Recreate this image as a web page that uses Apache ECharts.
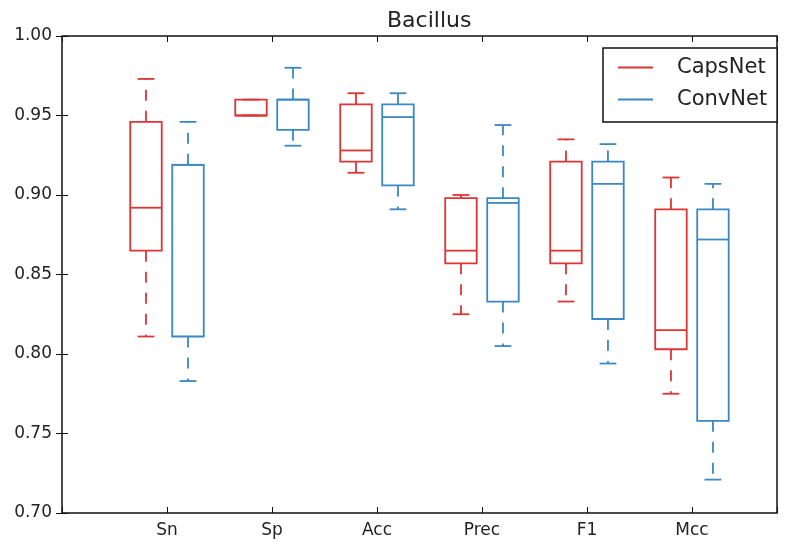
<!DOCTYPE html>
<html>
<head>
<meta charset="utf-8">
<script src="https://cdn.jsdelivr.net/npm/echarts@6/dist/echarts.min.js"></script>
<style>
  html, body { margin: 0; padding: 0; background: #fff; }
  #main { width: 788px; height: 542px; }
</style>
</head>
<body>
<div id="main"></div>
<script>
    var categories = ['Sn', 'Sp', 'Acc', 'Prec', 'F1', 'Mcc'];
    // [min, q1, median, q3, max]
    var capsNet = [
        [0.811, 0.865, 0.892, 0.946, 0.973],
        [0.950, 0.950, 0.950, 0.960, 0.960],
        [0.914, 0.921, 0.928, 0.957, 0.964],
        [0.825, 0.857, 0.865, 0.898, 0.900],
        [0.833, 0.857, 0.865, 0.921, 0.935],
        [0.775, 0.803, 0.815, 0.891, 0.911]
    ];
    var convNet = [
        [0.783, 0.811, 0.919, 0.919, 0.946],
        [0.931, 0.941, 0.960, 0.960, 0.980],
        [0.891, 0.906, 0.949, 0.957, 0.964],
        [0.805, 0.833, 0.895, 0.898, 0.944],
        [0.794, 0.822, 0.907, 0.921, 0.932],
        [0.721, 0.758, 0.872, 0.891, 0.907]
    ];
    var yTicks = [0.70, 0.75, 0.80, 0.85, 0.90, 0.95, 1.00];

    var RED = '#dc3535';
    var BLUE = '#3b88c3';
    var FONT = 'DejaVu Sans';

    function toItems(rows) {
        return rows.map(function (r, i) {
            return [i + 1].concat(r);
        });
    }

    function boxRenderer(side) {
        return function (params, api) {
            var pos = api.value(0);
            var band = api.size([1, 0])[0];
            var cx = api.coord([pos, 0])[0] + side * band * 0.2;
            var half = band * 0.15;
            var capHalf = band * 0.08;
            var yMin = api.coord([pos, api.value(1)])[1];
            var yQ1 = api.coord([pos, api.value(2)])[1];
            var yMed = api.coord([pos, api.value(3)])[1];
            var yQ3 = api.coord([pos, api.value(4)])[1];
            var yMax = api.coord([pos, api.value(5)])[1];
            var color = api.visual('color');
            var solid = { stroke: color, lineWidth: 1.8, fill: null };
            var dashed = { stroke: color, lineWidth: 1.8, lineDash: [11, 10] };
            return {
                type: 'group',
                children: [
                    { type: 'line', shape: { x1: cx, y1: yQ3, x2: cx, y2: yMax }, style: dashed },
                    { type: 'line', shape: { x1: cx, y1: yQ1, x2: cx, y2: yMin }, style: dashed },
                    { type: 'line', shape: { x1: cx - capHalf, y1: yMax, x2: cx + capHalf, y2: yMax }, style: solid },
                    { type: 'line', shape: { x1: cx - capHalf, y1: yMin, x2: cx + capHalf, y2: yMin }, style: solid },
                    { type: 'rect', shape: { x: cx - half, y: yQ3, width: half * 2, height: yQ1 - yQ3 }, style: solid },
                    { type: 'line', shape: { x1: cx - half, y1: yMed, x2: cx + half, y2: yMed }, style: solid }
                ]
            };
        };
    }

    var chart = echarts.init(document.getElementById('main'), null, { renderer: 'canvas' });

    var xLabel = function (v) {
        var i = Math.round(v);
        if (Math.abs(v - i) > 1e-6 || i < 1 || i > categories.length) return '';
        return categories[i - 1];
    };

    var option = {
        animation: false,
        color: [RED, BLUE],
        title: {
            text: 'Bacillus',
            left: 382,
            top: 5,
            textStyle: { fontFamily: FONT, fontSize: 22, fontWeight: 'normal', color: '#222' }
        },
        legend: {
            data: ['CapsNet', 'ConvNet'],
            orient: 'vertical',
            left: 603,
            top: 48,
            padding: [9, 10, 12, 15],
            itemGap: 11,
            itemWidth: 35,
            itemHeight: 2,
            icon: 'rect',
            borderColor: '#111',
            borderWidth: 1.5,
            backgroundColor: '#fff',
            textStyle: { fontFamily: FONT, fontSize: 21, color: '#222', padding: [0, 0, 0, 19] }
        },
        grid: {
            left: 62, right: 11, top: 36, bottom: 29,
            show: true, borderColor: '#111', borderWidth: 1.5, backgroundColor: 'transparent'
        },
        xAxis: [
            {
                type: 'value', position: 'bottom', min: 0, max: 6.81, interval: 1,
                splitLine: { show: false },
                axisLine: { show: false },
                axisTick: { show: true, inside: true, length: 6, lineStyle: { color: '#111', width: 1 } },
                axisLabel: { formatter: xLabel, margin: 9, fontFamily: FONT, fontSize: 17, color: '#222' }
            },
            {
                type: 'value', position: 'top', min: 0, max: 6.81, interval: 1,
                splitLine: { show: false },
                axisLine: { show: false },
                axisTick: { show: true, inside: true, length: 6, lineStyle: { color: '#111', width: 1 } },
                axisLabel: { show: false }
            }
        ],
        yAxis: [
            {
                type: 'value', position: 'left', min: yTicks[0], max: yTicks[yTicks.length - 1], interval: 0.05,
                splitLine: { show: false },
                axisLine: { show: false },
                axisTick: { show: true, inside: true, length: 6, lineStyle: { color: '#111', width: 1 } },
                axisLabel: {
                    margin: 10, fontFamily: FONT, fontSize: 17, color: '#222',
                    formatter: function (v) { return v.toFixed(2); }
                }
            },
            {
                type: 'value', position: 'right', min: yTicks[0], max: yTicks[yTicks.length - 1], interval: 0.05,
                splitLine: { show: false },
                axisLine: { show: false },
                axisTick: { show: true, inside: true, length: 6, lineStyle: { color: '#111', width: 1 } },
                axisLabel: { show: false }
            }
        ],
        series: [
            {
                name: 'CapsNet',
                type: 'custom',
                itemStyle: { color: RED },
                renderItem: boxRenderer(-1),
                encode: { x: 0, y: [1, 2, 3, 4, 5] },
                data: toItems(capsNet)
            },
            {
                name: 'ConvNet',
                type: 'custom',
                itemStyle: { color: BLUE },
                renderItem: boxRenderer(1),
                encode: { x: 0, y: [1, 2, 3, 4, 5] },
                data: toItems(convNet)
            }
        ]
    };

    chart.setOption(option);
</script>
</body>
</html>
